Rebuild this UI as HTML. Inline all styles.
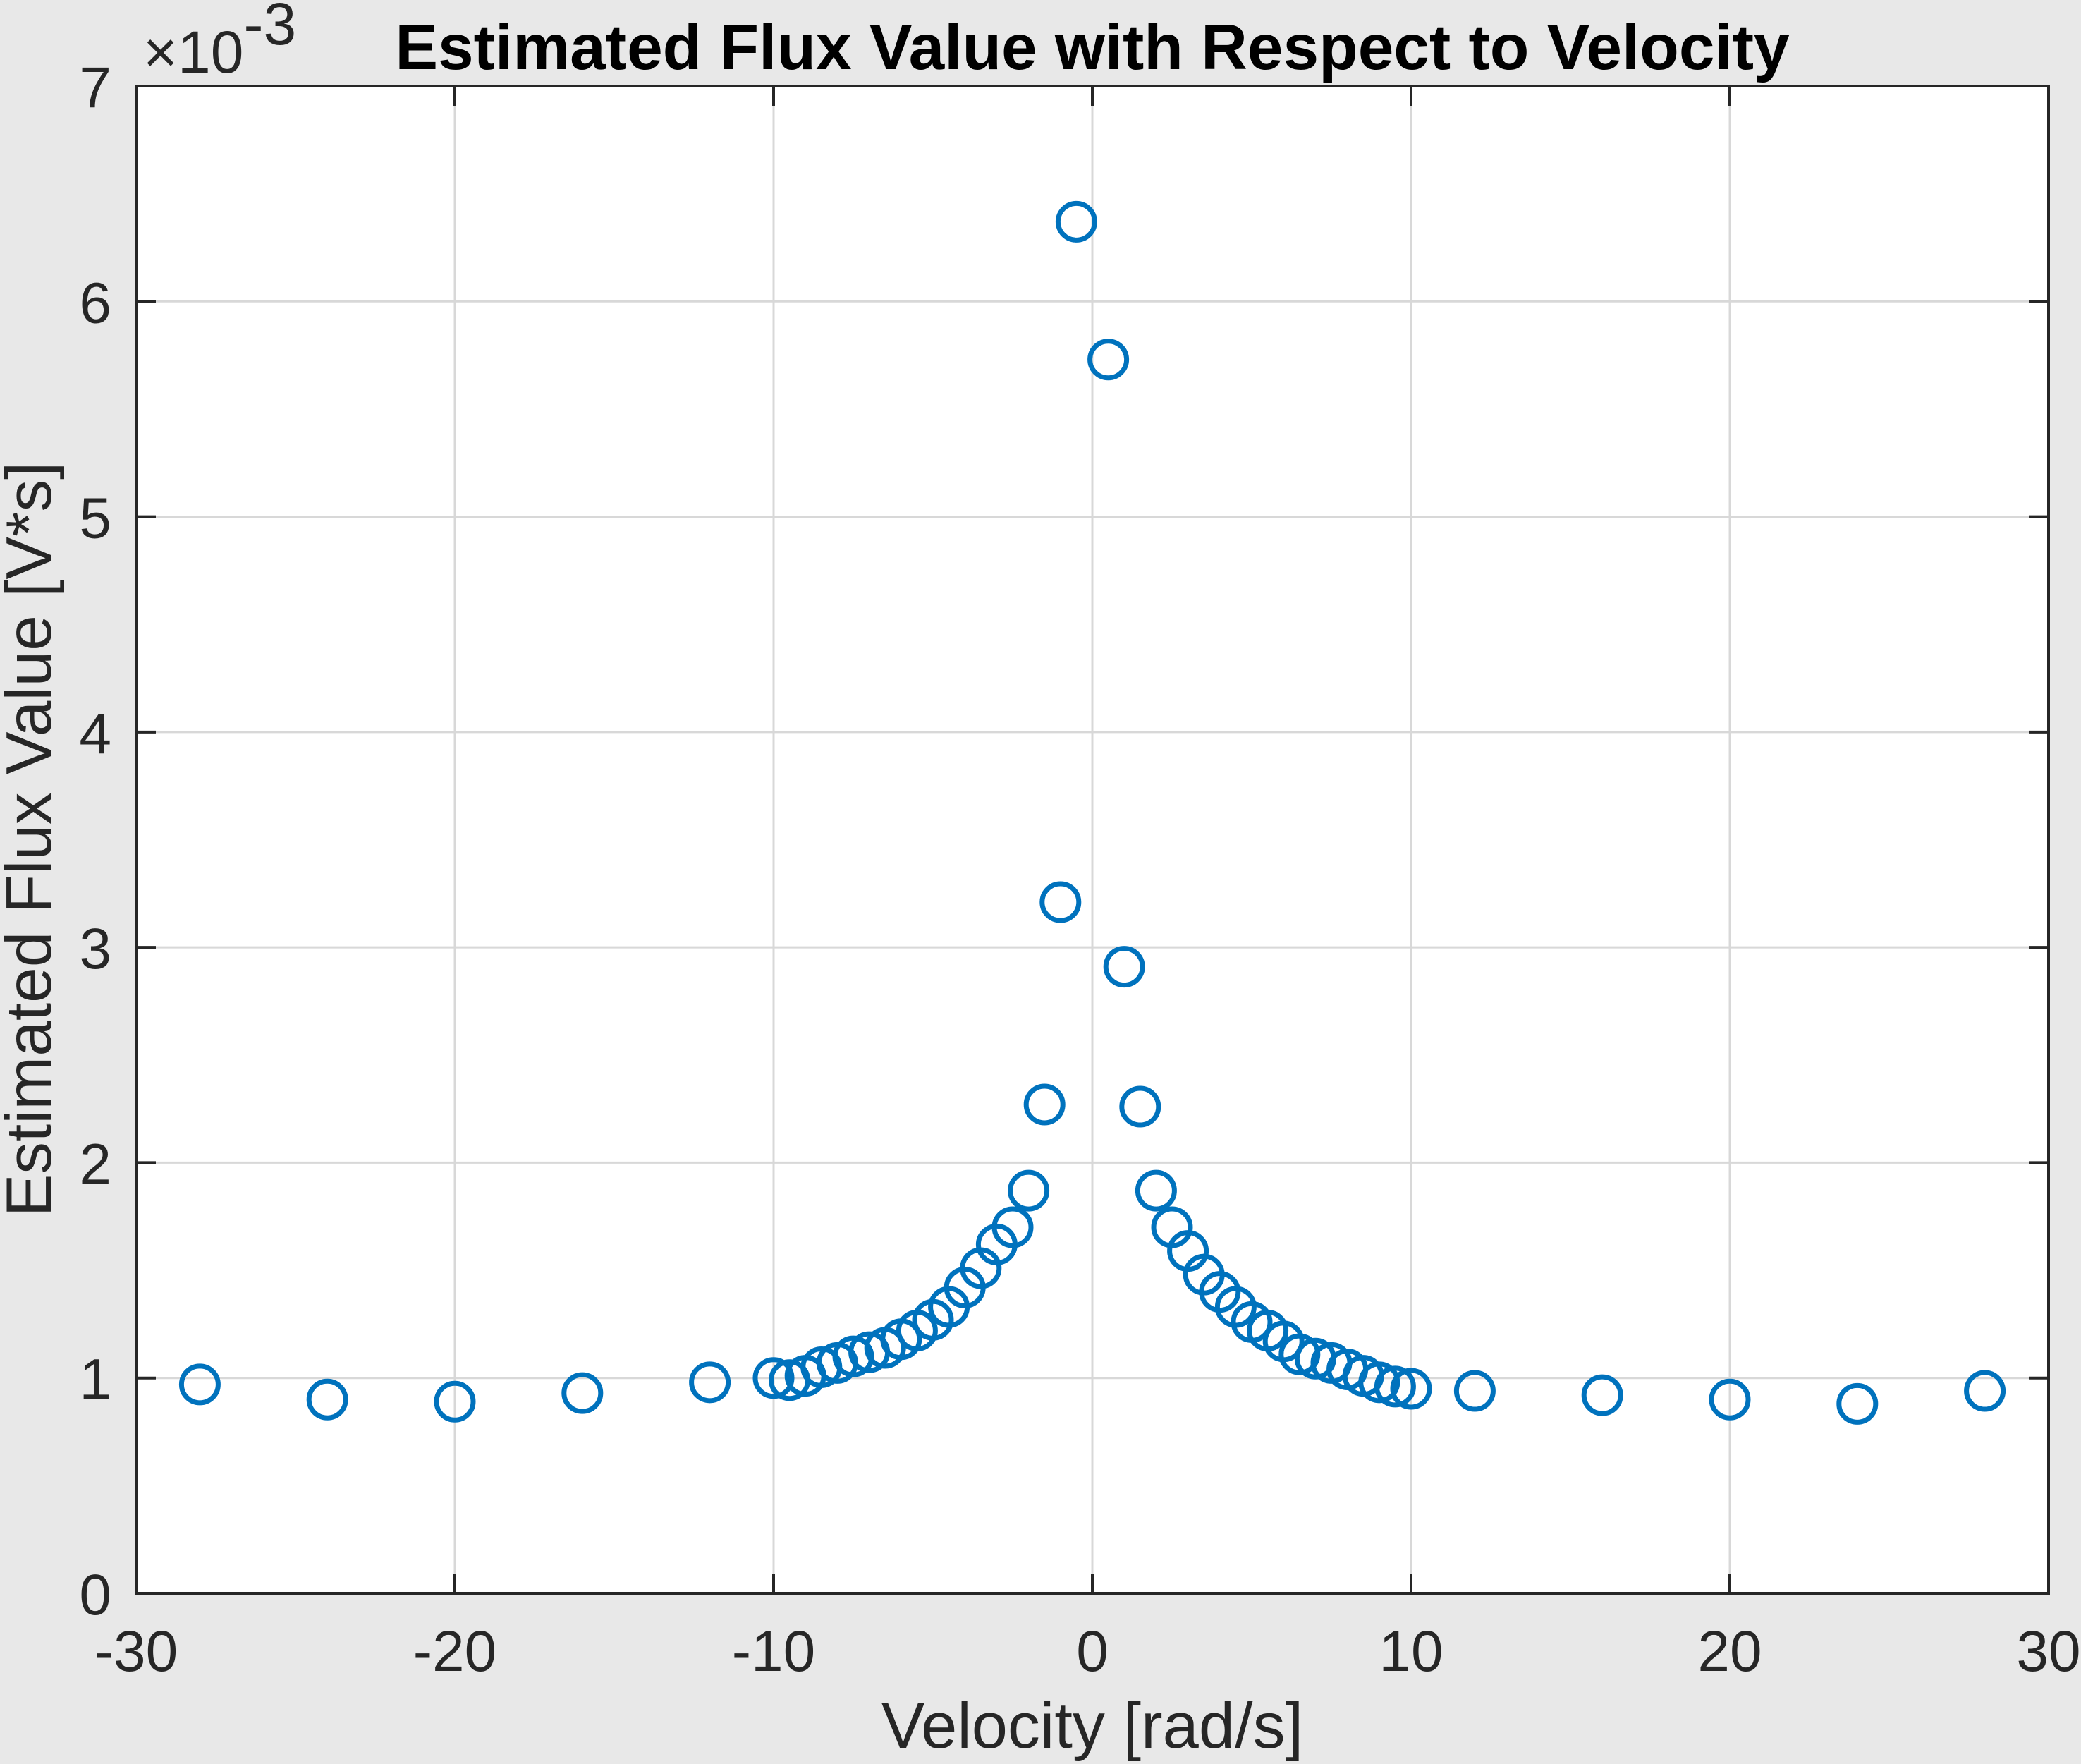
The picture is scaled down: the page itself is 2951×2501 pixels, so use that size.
<!DOCTYPE html>
<html><head><meta charset="utf-8"><style>
html,body{margin:0;padding:0;background:#e8e8e8;}
svg{display:block;font-family:"Liberation Sans",Arial,sans-serif;}
</style></head><body>
<svg id="chart" width="2951" height="2501" viewBox="0 0 2951 2501" xmlns="http://www.w3.org/2000/svg">
<rect x="0" y="0" width="2951" height="2501" fill="#e8e8e8"/>
<rect x="193" y="122" width="2712" height="2137" fill="#ffffff"/>
<g id="grid"></g>
<g id="ticks"></g>
<g id="marks"></g>
<rect x="193" y="122" width="2712" height="2137" fill="none" stroke="#262626" stroke-width="4"/>
<text x="1549" y="98" text-anchor="middle" font-size="91" font-weight="bold" fill="#000">Estimated Flux Value with Respect to Velocity</text>
<text x="1549" y="2478" text-anchor="middle" font-size="92" fill="#262626">Velocity [rad/s]</text>
<text transform="translate(72,1190) rotate(-90)" text-anchor="middle" font-size="91" fill="#262626">Estimated Flux Value [V*s]</text>
<text x="203" y="103" font-size="84" fill="#262626">×10<tspan dy="-40" font-size="84">-3</tspan></text>
</svg>
<script>
const xTicks = [-30, -20, -10, 0, 10, 20, 30];
const yTicks = [0, 1, 2, 3, 4, 5, 6, 7];
const velocity = [-28,-24,-20,-16,-12,-10,-9.5,-9,-8.5,-8,-7.5,-7,-6.5,-6,-5.5,-5,-4.5,-4,-3.5,-3,-2.5,-2,-1.5,-1,-0.5,0.5,1,1.5,2,2.5,3,3.5,4,4.5,5,5.5,6,6.5,7,7.5,8,8.5,9,9.5,10,12,16,20,24,28];
const flux = [0.97,0.90,0.89,0.93,0.98,1.00,0.99,1.01,1.05,1.07,1.10,1.12,1.14,1.18,1.22,1.27,1.33,1.42,1.51,1.62,1.70,1.87,2.27,3.21,6.37,5.73,2.91,2.26,1.87,1.70,1.59,1.48,1.40,1.33,1.26,1.22,1.17,1.11,1.09,1.07,1.04,1.01,0.98,0.96,0.95,0.94,0.92,0.90,0.88,0.94];

const L=193,R=2905,T=122,B=2259;
const xMin=-30,xMax=30,yMin=0,yMax=7;
function sx(v){return L+(v-xMin)/(xMax-xMin)*(R-L);}
function sy(v){return B-(v-yMin)/(yMax-yMin)*(B-T);}
const NS='http://www.w3.org/2000/svg';
function mk(tag,attrs,parent){const e=document.createElementNS(NS,tag);for(const k in attrs)e.setAttribute(k,attrs[k]);parent.appendChild(e);return e;}
const grid=document.getElementById('grid'),ticks=document.getElementById('ticks'),marks=document.getElementById('marks');
const svg=document.getElementById('chart');
xTicks.forEach(t=>{
  const x=sx(t);
  if(t>xMin&&t<xMax){
    const g=mk('line',{x1:x,x2:x,y1:T,y2:B,stroke:'#d8d8d8','stroke-width':3},grid);
    
    
  }
  const a=mk('line',{x1:x,x2:x,y1:B,y2:B-28,stroke:'#262626','stroke-width':4},ticks);
  
  
  const b=mk('line',{x1:x,x2:x,y1:T,y2:T+28,stroke:'#262626','stroke-width':4},ticks);
  
  
  const lb=mk('text',{x:x,y:2369,'text-anchor':'middle','font-size':82,fill:'#262626'},svg);
  lb.textContent=String(t);
  
  
});
yTicks.forEach(t=>{
  const y=sy(t);
  if(t>yMin&&t<yMax){
    const g=mk('line',{x1:L,x2:R,y1:y,y2:y,stroke:'#d8d8d8','stroke-width':3},grid);
    
    
  }
  const a=mk('line',{x1:L,x2:L+28,y1:y,y2:y,stroke:'#262626','stroke-width':4},ticks);
  
  
  const b=mk('line',{x1:R,x2:R-28,y1:y,y2:y,stroke:'#262626','stroke-width':4},ticks);
  
  
  const lb=mk('text',{x:158,y:y+30,'text-anchor':'end','font-size':82,fill:'#262626'},svg);
  lb.textContent=String(t);
  
  
});
velocity.forEach((v,i)=>{
  const c=mk('circle',{cx:sx(v),cy:sy(flux[i]),r:26,fill:'none',stroke:'#0072BD','stroke-width':7},marks);
  
  
});
</script>
</body></html>
